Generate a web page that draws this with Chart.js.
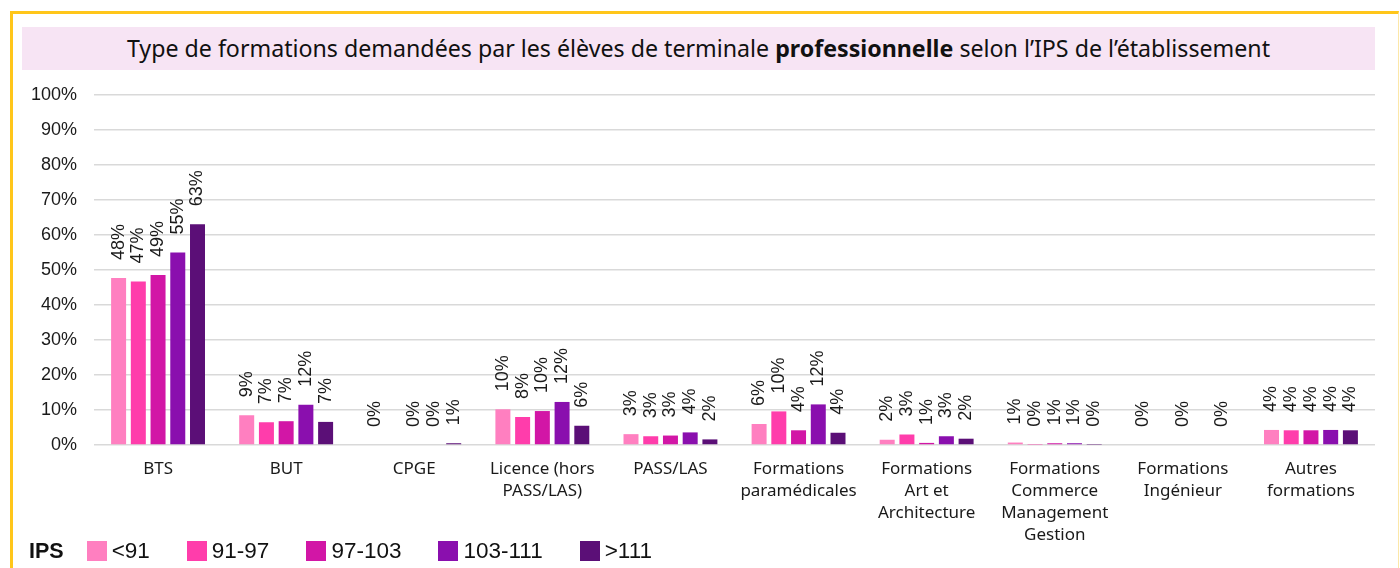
<!DOCTYPE html>
<html lang="fr">
<head>
<meta charset="utf-8">
<script src="https://cdn.jsdelivr.net/npm/chart.js@4/dist/chart.umd.min.js"></script>
<style>
    html, body { margin: 0; padding: 0; background: #fff; }
    body { width: 1400px; height: 568px; position: relative; overflow: hidden; }
    .frame {
        position: absolute; left: 10px; top: 11px; width: 1385px; height: 600px;
        border-top: 3px solid #FFC61A; border-left: 3px solid #FFC61A; border-right: 1px solid #FCE7A8;
    }
    .title {
        position: absolute; left: 22px; top: 27px; width: 1353px; height: 43px;
        background: #F7E4F4; font-family: "Noto Sans", sans-serif; font-size: 23.2px;
        color: #111; text-align: center; line-height: 43px; white-space: nowrap;
    }
    #wrap { position: absolute; left: 12px; top: 75px; width: 1388px; height: 480px; }
    .legend {
        position: absolute; left: 29px; top: 538px; display: flex; align-items: center;
        font-family: "Liberation Sans", Arial, sans-serif; font-size: 22.5px; color: #111;
    }
    .legend .ips { font-weight: bold; margin-right: 23px; font-size: 21.5px; }
    .legend .item { display: flex; align-items: center; margin-right: 37px; }
    .legend .box { width: 20px; height: 20px; margin-right: 5px; }
</style>
</head>
<body>
<div class="frame"></div>
<div class="title">Type de formations demandées par les élèves de terminale <b>professionnelle</b> selon l’IPS de l’établissement</div>
<div id="wrap"><canvas id="chart" width="1388" height="480"></canvas></div>
<div class="legend" id="legend"><span class="ips">IPS</span></div>
<script>
const categories = [
    ["BTS"],
    ["BUT"],
    ["CPGE"],
    ["Licence (hors", "PASS/LAS)"],
    ["PASS/LAS"],
    ["Formations", "paramédicales"],
    ["Formations", "Art et", "Architecture"],
    ["Formations", "Commerce", "Management", "Gestion"],
    ["Formations", "Ingénieur"],
    ["Autres", "formations"]
];
const seriesNames = ["<91", "91-97", "97-103", "103-111", ">111"];
const seriesColors = ["#FF7FC0", "#FF3DAB", "#D216A6", "#8A0FAE", "#5B0F77"];
// part des demandes (%) par tranche d'IPS
const ipsBelow91 = [47.7, 8.5, 0, 10.2, 3.1, 6.0, 1.5, 0.7, 0, 4.3];
const ips91to97 = [46.7, 6.5, null, 8.0, 2.5, 9.6, 3.0, 0.1, null, 4.2];
const ips97to103 = [48.6, 6.8, 0, 9.7, 2.7, 4.2, 0.6, 0.5, 0, 4.2];
const ips103to111 = [55.0, 11.5, 0, 12.3, 3.6, 11.6, 2.5, 0.5, null, 4.3];
const ipsAbove111 = [63.1, 6.6, 0.5, 5.5, 1.6, 3.5, 1.8, 0.1, 0, 4.2];
const yTicks = [0, 10, 20, 30, 40, 50, 60, 70, 80, 90, 100];

const seriesValues = [ipsBelow91, ips91to97, ips97to103, ips103to111, ipsAbove111];

const barLabels = {
    id: 'barLabels',
    afterDatasetsDraw(chart) {
        const ctx = chart.ctx;
        ctx.save();
        ctx.font = '18px "Liberation Sans", Arial, sans-serif';
        ctx.fillStyle = '#1a1a1a';
        ctx.textAlign = 'left';
        ctx.textBaseline = 'middle';
        chart.data.datasets.forEach((ds, i) => {
            chart.getDatasetMeta(i).data.forEach((bar, j) => {
                const v = ds.data[j];
                if (v === null || v === undefined) return;
                ctx.save();
                ctx.translate(bar.x, bar.y - 18);
                ctx.rotate(-Math.PI / 2);
                ctx.fillText(Math.round(v) + '%', 0, 0);
                ctx.restore();
            });
        });
        ctx.restore();
    }
};

const legendEl = document.getElementById('legend');
seriesNames.forEach((name, i) => {
    const item = document.createElement('span');
    item.className = 'item';
    item.innerHTML = '<span class="box" style="background:' + seriesColors[i] + '"></span>' + name;
    legendEl.appendChild(item);
});

const ctx = document.getElementById('chart').getContext('2d');
const chart = new Chart(ctx, {
    type: 'bar',
    data: {
        labels: categories,
        datasets: seriesNames.map((name, i) => ({
            label: name,
            data: seriesValues[i],
            backgroundColor: seriesColors[i],
            categoryPercentage: 0.77,
            barPercentage: 0.76
        }))
    },
    options: {
        responsive: false,
        animation: false,
        layout: { padding: { top: 20, right: 25, left: 0, bottom: 0 } },
        plugins: {
            legend: { display: false },
            tooltip: { enabled: false }
        },
        scales: {
            x: {
                border: { display: false },
                grid: { display: false, drawTicks: false },
                ticks: {
                    color: '#1a1a1a',
                    padding: 13,
                    maxRotation: 0,
                    autoSkip: false,
                    font: { family: '"Noto Sans", sans-serif', size: 17, lineHeight: 1.3 }
                },
                afterFit(scale) { scale.height = 110; }
            },
            y: {
                min: 0,
                max: 100,
                border: { display: false },
                grid: { color: '#d9d9d9', lineWidth: 1.5, drawTicks: false },
                afterBuildTicks(scale) { scale.ticks = yTicks.map(v => ({ value: v })); },
                ticks: {
                    color: '#1a1a1a',
                    padding: 17,
                    callback: v => v + '%',
                    font: { family: '"Liberation Sans", Arial, sans-serif', size: 18 }
                },
                afterFit(scale) {
                    scale.width = 82;
                    scale.paddingTop = 0;
                    scale.paddingBottom = 0;
                }
            }
        }
    },
    plugins: [barLabels]
});
</script>
</body>
</html>
